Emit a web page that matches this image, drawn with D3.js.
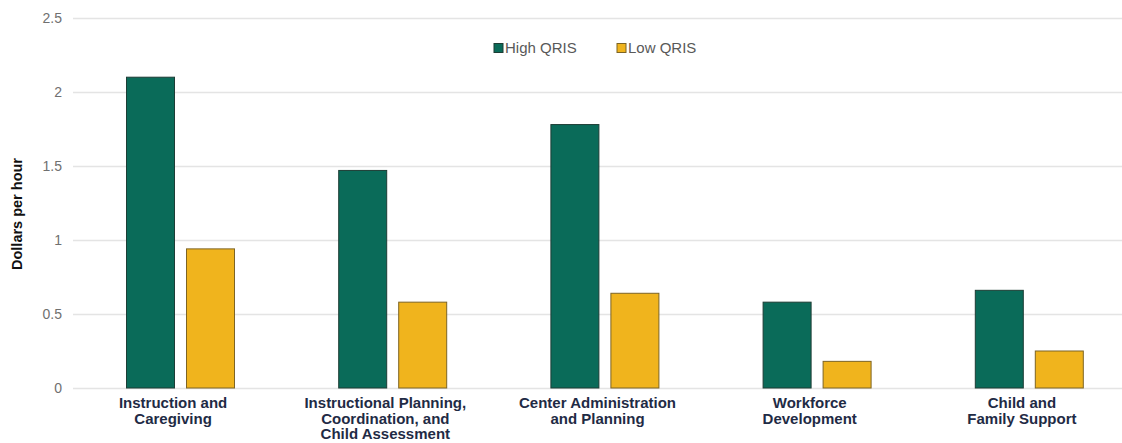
<!DOCTYPE html>
<html>
<head>
<meta charset="utf-8">
<script src="https://cdn.jsdelivr.net/npm/d3@7"></script>
<style>
  body { margin: 0; background: #fff; }
  text { font-family: Arial, "Liberation Sans", sans-serif; }
</style>
</head>
<body>
<div id="chart"></div>
<script>
var categories = [
  ["Instruction and", "Caregiving"],
  ["Instructional Planning,", "Coordination, and", "Child Assessment"],
  ["Center Administration", "and Planning"],
  ["Workforce", "Development"],
  ["Child and", "Family Support"]
];
var highQRIS = [2.1, 1.47, 1.78, 0.58, 0.66];
var lowQRIS = [0.94, 0.58, 0.64, 0.18, 0.25];
var seriesNames = ["High QRIS", "Low QRIS"];
var yTicks = [0, 0.5, 1, 1.5, 2, 2.5];

var width = 1122,
    height = 443;

var colors = ["#0a6b59", "#f0b41d"],
    strokes = ["#1d3d35", "#7d6424"];

var svg = d3.select("#chart")
    .append("svg")
    .attr("width", width)
    .attr("height", height);

var y = d3.scaleLinear().domain([0, 2.5]).range([388, 18]);

var x = d3.scaleBand()
    .domain(d3.range(categories.length))
    .range([74, 1135]);

var x1 = d3.scaleBand()
    .domain([0, 1])
    .range([52, 160])
    .paddingInner(0.2);

/* gridlines */
svg.append("g")
    .selectAll("line")
    .data(yTicks)
    .enter().append("line")
      .attr("x1", 73)
      .attr("x2", width)
      .attr("y1", function(d) { return y(d) + 0.5; })
      .attr("y2", function(d) { return y(d) + 0.5; })
      .attr("stroke", "#e4e4e4")
      .attr("stroke-width", 1.5);

/* y axis labels */
var yAxis = d3.axisLeft(y).tickValues(yTicks).tickSize(0).tickPadding(0)
    .tickFormat(function(d) { return d; });
var ya = svg.append("g")
    .attr("transform", "translate(62,0)")
    .call(yAxis);
ya.select(".domain").remove();
ya.selectAll("text")
    .attr("fill", "#707070")
    .style("font-size", "14px")
    .style("font-family", "Arial, 'Liberation Sans', sans-serif");

svg.append("text")
    .attr("transform", "translate(17,214) rotate(-90)")
    .attr("text-anchor", "middle")
    .attr("dy", "0.35em")
    .attr("font-weight", "bold")
    .attr("font-size", "14.5px")
    .attr("fill", "#111")
    .text("Dollars per hour");

/* bars */
var series = [highQRIS, lowQRIS];
series.forEach(function(vals, s) {
  svg.append("g")
    .selectAll("rect")
    .data(vals)
    .enter().append("rect")
      .attr("x", function(d, i) { return x(i) + x1(s) + 0.5; })
      .attr("width", x1.bandwidth())
      .attr("y", function(d) { return y(d); })
      .attr("height", function(d) { return y(0) - y(d); })
      .attr("fill", colors[s])
      .attr("stroke", strokes[s])
      .attr("stroke-width", 1);
});

/* category labels */
var labels = svg.append("g")
    .selectAll("text")
    .data(categories)
    .enter().append("text")
      .attr("text-anchor", "middle")
      .attr("font-weight", "bold")
      .attr("font-size", "15px")
      .attr("fill", "#1f2b45")
      .attr("transform", function(d, i) { return "translate(" + (x(i) + x.bandwidth() / 2 - 7) + ",408)"; });
labels.selectAll("tspan")
    .data(function(d) { return d; })
    .enter().append("tspan")
      .attr("x", 0)
      .attr("dy", function(d, i) { return i === 0 ? 0 : 15.5; })
      .text(function(d) { return d; });

/* legend */
var legendX = [494, 617];
var legend = svg.append("g")
    .selectAll("g")
    .data(seriesNames)
    .enter().append("g")
      .attr("transform", function(d, i) { return "translate(" + legendX[i] + ",48)"; });
legend.append("rect")
    .attr("x", 0).attr("y", -4.5)
    .attr("width", 9).attr("height", 9)
    .attr("fill", function(d, i) { return colors[i]; })
    .attr("stroke", function(d, i) { return strokes[i]; });
legend.append("text")
    .attr("x", 11)
    .attr("dy", "0.35em")
    .attr("font-size", "15px")
    .attr("fill", "#595959")
    .text(function(d) { return d; });
</script>
</body>
</html>
